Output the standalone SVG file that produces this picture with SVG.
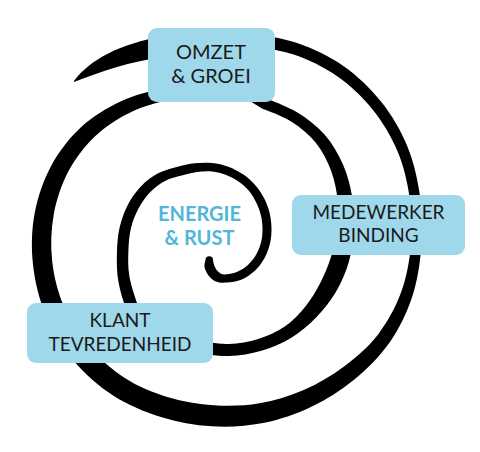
<svg xmlns="http://www.w3.org/2000/svg" width="480" height="452" viewBox="0 0 480 452">
<style>
.box{fill:#9fd8ea}
.sp{fill:#000}
.lbl{font-family:Lato,"Open Sans","DejaVu Sans",sans-serif;font-size:19px;fill:#1a1a1a;text-anchor:middle}
.big{font-size:20px}
.ctr{font-family:Lato,"Open Sans","DejaVu Sans",sans-serif;font-weight:700;font-size:20px;fill:#52b6d9;text-anchor:middle}
</style>
<rect width="480" height="452" fill="#fff"/>
<g id="connectors">
<path class="sp" d="M 74 81 C 90 60 118 44 165 36 L 165 57 C 130 61 100 72 74 82 Z"/>
<path class="sp" d="M 246.3 32.8 S 280.9 37.4 297.1 43 S 329.7 56.4 343.7 66.2 S 370.8 88.7 381.4 102.1 S 401.1 131 407.5 146.7 S 417.7 179.6 420 196.3 S 422.6 230.1 421.3 246.8 S 417.5 280.8 412.2 296.7 S 399.3 328.6 389.6 342.4 S 367.3 368.7 354.3 379.4 S 326.6 399.4 311.4 406.7 S 279.6 419.7 263 423 S 228.8 427.3 211.8 426.3 S 177.4 422.1 160.9 417 S 127.7 404.9 113.1 395.5 S 84.7 373.9 73.5 360.5 S 52.7 331.4 45.9 315.4 S 34.9 281.6 33 264.5 S 31.6 229.5 34.7 213 S 43.6 179.8 51.4 165.4 S 69.9 137.5 81.5 126.8 S 107.4 107.7 121 101.3 S 150.2 91.3 163.1 88.6 S 192.4 84.6 198.2 85.2 L 200.7 97 S 180.1 97.4 168.4 100 S 142.5 106.4 130.3 112.4 S 105.4 126.4 95.1 136.2 S 75.2 158.4 68.3 171.5 S 56.4 199.8 53.7 214.7 S 50.5 245.8 52.2 261.2 S 57.9 292.6 64.1 306.9 S 79.4 335.1 89.6 347 S 112.1 369.9 125.2 378.3 S 153.4 392.8 168.1 397.3 S 198.5 404.3 213.7 405.3 S 244.6 405.9 259.6 403.3 S 289.6 396.1 303.6 390 S 331.3 376 343.7 366.7 S 368.6 346.8 378.1 334.4 S 395.6 307.4 401 292.6 S 409.4 261.7 410.8 245.9 S 411.9 213.9 409.7 198.1 S 403.8 166.2 397.6 151.4 S 382.7 122.1 372.6 109.5 S 350.1 85.2 336.8 76 S 308.3 59.5 293 54.3 S 253.2 46.3 245.2 44.7 Z"/>
<path class="sp" d="M 264.5 97.7 S 287 106.1 297 112.2 S 316.9 125.8 324.5 134.5 S 338.3 153.8 342.9 164.2 S 350.4 186 352.2 197 S 354.6 219.2 354 230 S 351.8 251.8 348.8 262.1 S 341.4 282.6 336 291.8 S 323.8 309.6 316.3 317.3 S 300.5 332.2 291.3 337.8 S 271.8 347.7 261.4 350.7 S 239.9 355.7 229 356 S 201.6 353.3 196.1 352.7 L 127.9 312.1 C 123.1 302.4 120.3 291.8 118.5 282 S 116.7 262.5 116.9 253.5 S 117.7 236 119.5 228 S 124 212.3 127.5 205.4 S 135.6 192 140.6 186.7 S 151.6 176.9 157.6 173.6 S 170.5 168.6 176.7 166.9 S 188.8 164 194.7 163.3 S 206.4 162.4 212 163 S 223.2 164.8 228.4 166.7 S 238.6 171.3 243 174.3 S 251.6 181 255.1 184.9 S 261.6 193.4 264 198 S 268.3 207.6 269.5 212.6 S 271.4 222.9 271.5 228 S 271.2 238.5 270 243.5 S 266.9 253.8 264.4 258.3 S 258.6 267.3 254.8 270.8 S 246.5 277.5 241.8 279.5 S 230.9 282.3 226.6 282.6 S 219 282.7 216 281.5 S 210.4 277.9 208.5 275.5 S 205 269.6 204.5 267 S 205.3 261.2 205.5 260 A 3.75 3.75 0 0 1 213 260 S 213.7 264.1 214.5 266 S 216.4 270.1 218 271.5 S 221.2 274.4 224.4 274.4 S 233.3 273.4 237.3 271.7 S 245.2 267.4 248.4 264.4 S 254.5 257.7 256.6 253.8 S 260.3 245.5 261.3 241.2 S 262.6 232.4 262.5 228 S 261.9 219.2 260.8 214.9 S 258.2 206.5 256.2 202.5 S 252 194.4 249.1 190.9 S 242.6 184.4 238.8 181.7 S 230.7 176.6 226.2 174.9 S 216.9 172 212 171.5 S 202.1 171.3 197 172 S 187 174.1 181.7 175.6 S 170.3 178.2 165 181 S 154.5 187.7 150.1 192.2 S 141.8 202.3 138.6 208.3 S 132.7 221 131 228 S 128.7 242.4 128.4 250.4 S 127.9 267 129.3 275.8 S 135 297 137 303 S 140.8 310.4 141.6 311.9 L 199.2 341.1 S 219.2 344.3 229 344 S 248.9 342 258.2 339.1 S 276.9 332.1 284.8 326.6 S 299.5 313.7 305.4 306.4 S 316.2 291 320.4 282.8 S 328.1 266.1 330.9 257.3 S 335.9 239.4 337 230 S 338.7 210.7 337.7 200.9 S 334.8 180.7 331.2 171 S 322.6 151.2 316 143 S 300.6 127.5 291.5 121.7 S 266.6 110.5 261.6 108.3 L 245 98 Z"/>
</g>
<g id="omzet">
<rect class="box" x="148" y="28" width="127" height="74" rx="9"/>
<text class="lbl big" x="211" y="59">OMZET</text>
<text class="lbl big" x="211" y="83">&amp; GROEI</text>
</g>
<g id="medewerker">
<rect class="box" x="292" y="195" width="173" height="60" rx="9"/>
<text class="lbl" x="378.5" y="219">MEDEWERKER</text>
<text class="lbl" x="378.5" y="242">BINDING</text>
</g>
<g id="klant">
<rect class="box" x="27" y="303" width="186" height="60" rx="9"/>
<text class="lbl" x="120" y="327">KLANT</text>
<text class="lbl" x="120" y="351">TEVREDENHEID</text>
</g>
<g id="energie">
<text class="ctr" x="199.5" y="221">ENERGIE</text>
<text class="ctr" x="199.5" y="245">&amp; RUST</text>
</g>
</svg>
